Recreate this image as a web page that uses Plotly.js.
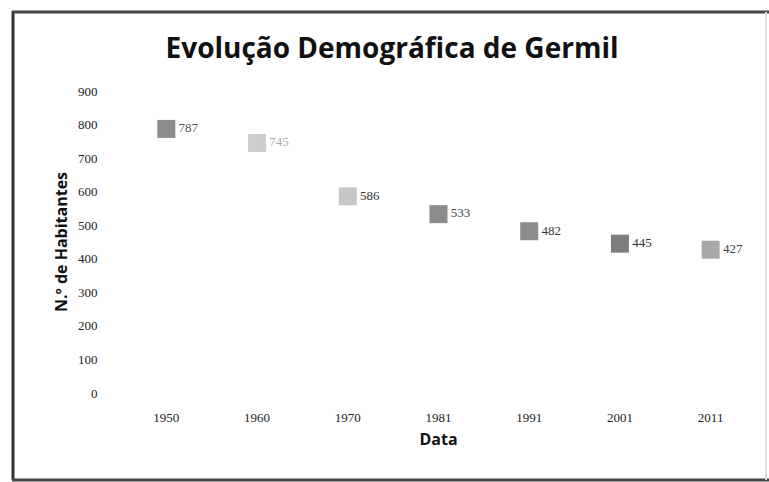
<!DOCTYPE html>
<html><head><meta charset="utf-8">
<script src="https://cdn.plot.ly/plotly-3.0.1.min.js"></script>
<style>html,body{margin:0;padding:0;background:#fff;}#c{width:769px;height:482px;}</style>
</head><body><div id="c"></div>
<script>
const years = ['1950','1960','1970','1981','1991','2001','2011'];
const habitantes = [787, 745, 586, 533, 482, 445, 427];
const labels = habitantes.map(String);
const markerColors = ['#777','#c4c4c4','#bdbdbd','#777','#777','#666','#999'];
const textColors = ['#555','#aaa','#333','#444','#333','#333','#444'];

const trace = {
  x: years, y: habitantes, type: 'scatter', mode: 'markers+text',
  text: labels, textposition: 'middle right',
  textfont: {family: 'Liberation Serif', size: 13, color: textColors},
  marker: {symbol: 'square', size: 18, color: markerColors, opacity: 0.85,
           line: {width: 0}},
  hoverinfo: 'skip', cliponaxis: false
};

const L = 121, R = 13, T = 91, B = 89, W = 769, H = 482;
const pw = W - L - R, ph = H - T - B;
const px = v => (v - L) / pw;
const py = v => (H - B - v) / ph;

const layout = {
  width: W, height: H,
  margin: {l: L, r: R, t: T, b: B},
  paper_bgcolor: '#fff', plot_bgcolor: '#fff',
  showlegend: false,
  title: {text: 'Evolução Demográfica de Germil', x: px(392), xref: 'paper', xanchor: 'center',
          y: 1 - 48 / 482, yref: 'container', yanchor: 'middle',
          font: {family: 'Open Sans', size: 28, color: '#111', weight: 'bold'}},
  xaxis: {type: 'category', range: [-0.5, 6.5], showgrid: false, zeroline: false, showline: false,
          ticks: 'outside', ticklen: 12, tickcolor: 'rgba(0,0,0,0)',
          tickfont: {family: 'Liberation Serif', size: 13, color: '#222'},
          title: {text: 'Data', standoff: 10, font: {family: 'Open Sans', size: 16, color: '#111', weight: 'bold'}}},
  yaxis: {range: [0, 900], dtick: 100, showgrid: false, zeroline: false, showline: false,
          ticks: 'outside', ticklen: 20, tickcolor: 'rgba(0,0,0,0)',
          tickfont: {family: 'Liberation Serif', size: 13, color: '#222'},
          title: {text: 'N.º de Habitantes', standoff: 6, font: {family: 'Open Sans', size: 16, color: '#111', weight: 'bold'}}},
  shapes: [
    {type: 'line', xref: 'paper', yref: 'paper', x0: px(13), x1: px(13), y0: py(11), y1: py(480), line: {color: '#333', width: 3}},
    {type: 'line', xref: 'paper', yref: 'paper', x0: px(12), x1: px(769), y0: py(12), y1: py(12), line: {color: '#444', width: 3}},
    {type: 'line', xref: 'paper', yref: 'paper', x0: px(12), x1: px(769), y0: py(480), y1: py(480), line: {color: '#444', width: 3}},
    {type: 'line', xref: 'paper', yref: 'paper', x0: px(766), x1: px(766), y0: py(12), y1: py(480), line: {color: '#ddd', width: 2}}
  ]
};

Plotly.newPlot('c', [trace], layout, {staticPlot: true});
</script></body></html>
